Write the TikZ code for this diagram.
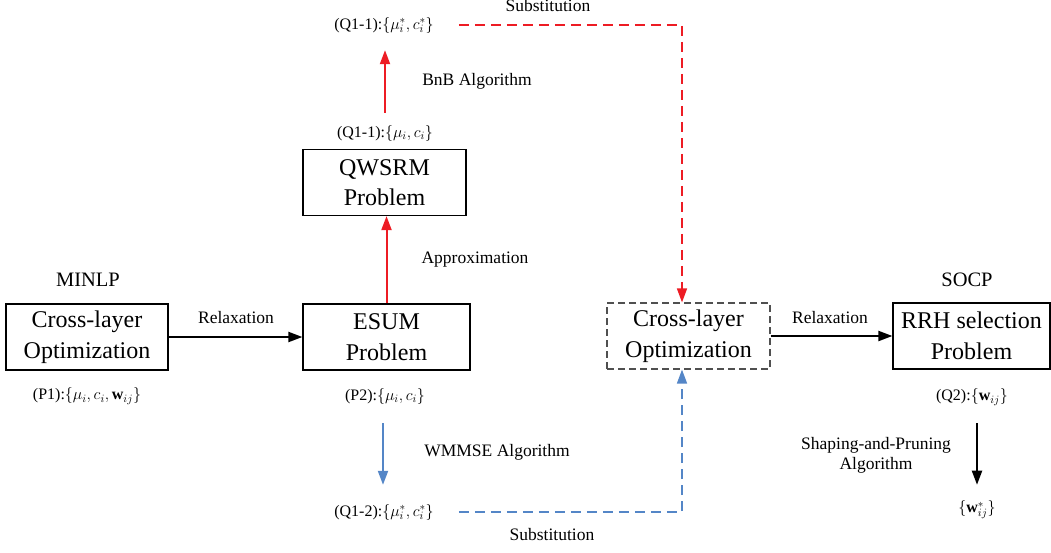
\RequirePackage{fix-cm}
\documentclass[tikz,border=0pt]{standalone}
\usepackage{fontspec}
\setmainfont{Liberation Serif}
\usetikzlibrary{arrows.meta}
\definecolor{myred}{RGB}{237,28,36}
\definecolor{myblue}{RGB}{84,134,199}
\definecolor{mygray}{RGB}{80,80,80}
\begin{document}
\begin{tikzpicture}[x=1pt,y=-1pt,
  box/.style={draw, line width=1.2pt, minimum width=#1, minimum height=66pt, align=center,
    font=\fontsize{24}{30.5}\selectfont, inner sep=0pt},
  lbl/.style={font=\fontsize{17.5}{20}\selectfont, inner sep=0pt, align=center},
  ttl/.style={font=\fontsize{20.5}{24}\selectfont, inner sep=0pt},
  small/.style={font=\fontsize{16}{19}\selectfont, inner sep=0pt},
  arr/.style={line width=2pt, -{Triangle[length=14pt,width=10pt]}},
  dsh/.style={line width=1.6pt, dash pattern=on 10pt off 6pt}
]
\useasboundingbox (0,0) rectangle (1051,552);

% boxes
\node[box=162pt] (cl) at (87,337) {Cross-layer\\Optimization};
\node[box=167pt] (esum) at (386.5,337) {ESUM\\Problem};
\node[box=163pt] (qw) at (384.5,182.5) {QWSRM\\Problem};
\node[box=163pt, draw=mygray, dash pattern=on 7pt off 4pt] (db) at (688.5,336) {Cross-layer\\Optimization};
\node[box=157pt] (rrh) at (971.5,336) {RRH selection\\Problem};

% titles
\node[ttl] (minlp) at (88,280) {MINLP};
\node[ttl] (socp) at (967,280) {SOCP};

% small labels
\node[small] (p1) at (87,396) {(P1):$\{\mu_i,c_i,\mathbf{w}_{ij}\}$};
\node[small] (p2) at (385,396) {(P2):$\{\mu_i,c_i\}$};
\node[small] (q11) at (385,133) {(Q1-1):$\{\mu_i,c_i\}$};
\node[small] (q11s) at (384,25) {(Q1-1):$\{\mu_i^*,c_i^*\}$};
\node[small] (q12) at (384,512) {(Q1-2):$\{\mu_i^*,c_i^*\}$};
\node[small] (q2) at (972,397) {(Q2):$\{\mathbf{w}_{ij}\}$};
\node[small] (ws) at (977,510) {$\{\mathbf{w}_{ij}^*\}$};

% edge labels
\node[lbl] (rel1) at (236,318) {Relaxation};
\node[lbl] (rel2) at (830,318) {Relaxation};
\node[lbl] (appr) at (475,260) {Approximation};
\node[lbl] (bnb) at (477,81) {BnB Algorithm};
\node[lbl] (wmmse) at (497,452) {WMMSE Algorithm};
\node[lbl] (sub1) at (548,6) {Substitution};
\node[lbl] (sub2) at (552,535) {Substitution};
\node[lbl] (sp) at (876,455) {Shaping-and-Pruning\\Algorithm};

% connectors
\draw[arr] (cl.east) -- (esum.west);
\draw[arr] (db.east) -- (rrh.west);
\draw[arr, myred] (esum.north) -- (esum.north |- qw.south);
\draw[arr, myred, shorten <=12pt, shorten >=17pt] (q11.north) -- (q11.north |- q11s.south);
\draw[arr, myblue, shorten <=19pt, shorten >=19pt] ([xshift=-2pt]p2.south) -- ([xshift=-2pt]p2.south |- q12.north);
\draw[arr, shorten <=18pt, shorten >=16pt] (q2.south -| ws.north) -- (ws.north);
\draw[dsh, myred, -{Triangle[length=14pt,width=10pt]}] ([xshift=25pt]q11s.east) -| ([xshift=-6.5pt]db.north);
\draw[dsh, myblue, -{Triangle[length=14pt,width=10pt]}] ([xshift=25pt]q12.east) -| ([xshift=-6.5pt]db.south);
\end{tikzpicture}
\end{document}
